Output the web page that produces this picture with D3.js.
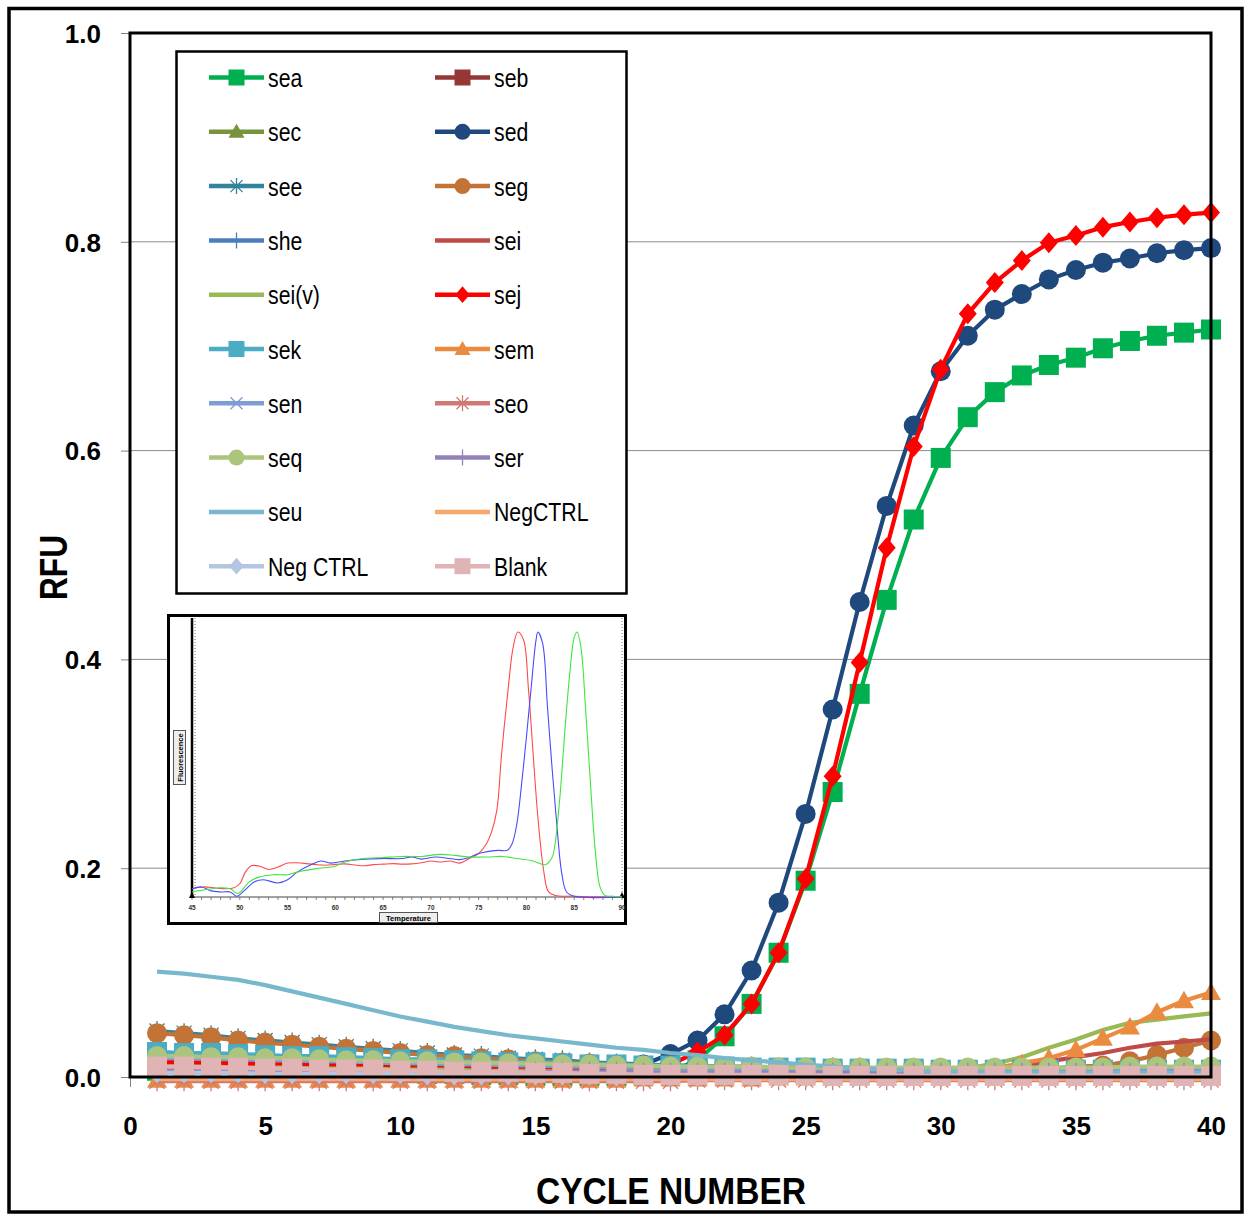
<!DOCTYPE html>
<html><head><meta charset="utf-8">
<title>RFU vs cycle number</title>
<script src="https://cdn.jsdelivr.net/npm/d3@7"></script>
<style>
body { margin: 0; background: #fff; }
svg { display: block; }
text { font-family: "Liberation Sans", Arial, sans-serif; }
</style>
</head>
<body>
<svg id="chart" width="1249" height="1215"></svg>
<script>
// ---- data ----
const cycles = [1,2,3,4,5,6,7,8,9,10,11,12,13,14,15,16,17,18,19,20,21,22,23,24,25,26,27,28,29,30,31,32,33,34,35,36,37,38,39,40];

const seaValues = [0.006,0.006,0.006,0.006,0.006,0.006,0.005,0.005,0.005,0.004,0.003,0.003,0.002,0.002,0.001,0.001,0.001,0.001,0.002,0.005,0.016,0.039,0.070,0.119,0.188,0.273,0.367,0.457,0.534,0.593,0.632,0.656,0.672,0.682,0.689,0.698,0.705,0.710,0.713,0.716];
const sebValues = [0.012,0.012,0.011,0.011,0.010,0.010,0.010,0.009,0.009,0.009,0.008,0.008,0.008,0.007,0.007,0.007,0.006,0.006,0.006,0.005,0.005,0.005,0.005,0.004,0.004,0.004,0.004,0.004,0.004,0.004,0.004,0.004,0.004,0.004,0.005,0.005,0.005,0.006,0.006,0.006];
const secValues = [0.020,0.020,0.019,0.019,0.018,0.018,0.017,0.017,0.016,0.016,0.015,0.014,0.014,0.013,0.012,0.012,0.011,0.011,0.010,0.010,0.009,0.009,0.008,0.008,0.008,0.007,0.007,0.007,0.007,0.007,0.007,0.007,0.007,0.007,0.007,0.008,0.008,0.008,0.008,0.009];
const sedValues = [0.014,0.014,0.013,0.013,0.013,0.012,0.012,0.012,0.011,0.011,0.011,0.010,0.010,0.010,0.009,0.009,0.009,0.009,0.012,0.022,0.035,0.060,0.102,0.167,0.252,0.352,0.455,0.547,0.624,0.676,0.710,0.735,0.750,0.764,0.773,0.780,0.784,0.789,0.792,0.794];
const seeValues = [0.044,0.042,0.040,0.037,0.035,0.033,0.031,0.029,0.027,0.025,0.023,0.021,0.020,0.018,0.017,0.016,0.014,0.013,0.012,0.011,0.011,0.010,0.010,0.009,0.009,0.009,0.009,0.008,0.008,0.008,0.008,0.008,0.008,0.008,0.008,0.008,0.008,0.008,0.008,0.008];
const segValues = [0.042,0.040,0.038,0.035,0.033,0.031,0.029,0.027,0.025,0.023,0.021,0.020,0.018,0.017,0.015,0.014,0.013,0.012,0.011,0.010,0.010,0.009,0.009,0.008,0.008,0.008,0.008,0.007,0.007,0.007,0.007,0.007,0.007,0.008,0.010,0.011,0.015,0.021,0.028,0.035];
const sheValues = [0.011,0.011,0.010,0.010,0.010,0.010,0.009,0.009,0.009,0.009,0.008,0.008,0.008,0.008,0.007,0.007,0.007,0.007,0.006,0.006,0.006,0.006,0.006,0.005,0.005,0.005,0.005,0.005,0.005,0.005,0.005,0.005,0.005,0.005,0.005,0.005,0.005,0.005,0.005,0.005];
const seiValues = [0.008,0.008,0.008,0.007,0.007,0.007,0.007,0.006,0.006,0.006,0.006,0.006,0.005,0.005,0.005,0.005,0.005,0.004,0.004,0.004,0.004,0.004,0.004,0.004,0.004,0.004,0.004,0.004,0.004,0.004,0.005,0.007,0.010,0.015,0.019,0.023,0.028,0.032,0.034,0.036];
const seivValues = [0.012,0.012,0.011,0.011,0.010,0.010,0.010,0.009,0.009,0.009,0.008,0.008,0.008,0.007,0.007,0.007,0.006,0.006,0.006,0.006,0.005,0.005,0.005,0.005,0.005,0.005,0.005,0.005,0.005,0.006,0.008,0.013,0.019,0.028,0.036,0.045,0.052,0.055,0.058,0.061];
const sejValues = [0.014,0.014,0.014,0.013,0.013,0.013,0.012,0.012,0.012,0.011,0.011,0.011,0.010,0.010,0.010,0.009,0.009,0.009,0.009,0.012,0.024,0.040,0.070,0.119,0.190,0.288,0.397,0.507,0.604,0.678,0.731,0.761,0.782,0.799,0.806,0.814,0.819,0.823,0.826,0.828];
const sekValues = [0.024,0.023,0.023,0.022,0.021,0.020,0.020,0.019,0.018,0.017,0.017,0.016,0.015,0.014,0.014,0.013,0.012,0.012,0.011,0.011,0.010,0.010,0.009,0.009,0.009,0.008,0.008,0.008,0.008,0.007,0.007,0.007,0.007,0.007,0.007,0.007,0.007,0.007,0.007,0.007];
const semValues = [-0.003,-0.003,-0.003,-0.003,-0.003,-0.003,-0.003,-0.003,-0.003,-0.003,-0.003,-0.003,-0.003,-0.003,-0.003,-0.003,-0.003,-0.003,-0.002,-0.002,-0.002,-0.002,-0.002,-0.001,-0.001,-0.001,0.000,0.002,0.003,0.004,0.006,0.009,0.013,0.018,0.026,0.037,0.048,0.062,0.073,0.081];
const senValues = [0.018,0.018,0.017,0.017,0.016,0.016,0.015,0.015,0.014,0.013,0.013,0.012,0.012,0.011,0.011,0.010,0.010,0.009,0.009,0.008,0.008,0.008,0.007,0.007,0.007,0.006,0.006,0.006,0.006,0.006,0.006,0.006,0.006,0.006,0.006,0.006,0.006,0.006,0.006,0.006];
const seoValues = [-0.004,-0.004,-0.004,-0.004,-0.004,-0.004,-0.004,-0.004,-0.004,-0.004,-0.004,-0.004,-0.004,-0.004,-0.004,-0.004,-0.004,-0.004,-0.004,-0.004,-0.003,-0.003,-0.003,-0.003,-0.003,-0.003,-0.003,-0.003,-0.003,-0.003,-0.003,-0.003,-0.003,-0.003,-0.003,-0.003,-0.003,-0.003,-0.003,-0.003];
const seqValues = [0.020,0.020,0.019,0.019,0.018,0.018,0.017,0.016,0.016,0.015,0.015,0.014,0.014,0.013,0.013,0.012,0.012,0.011,0.011,0.010,0.010,0.010,0.010,0.009,0.009,0.009,0.009,0.009,0.009,0.009,0.009,0.009,0.009,0.009,0.009,0.009,0.010,0.010,0.010,0.010];
const serValues = [0.006,0.006,0.006,0.006,0.006,0.006,0.006,0.006,0.005,0.005,0.005,0.005,0.005,0.005,0.005,0.005,0.005,0.005,0.004,0.004,0.004,0.004,0.004,0.004,0.004,0.004,0.004,0.004,0.004,0.004,0.004,0.004,0.004,0.004,0.004,0.004,0.004,0.004,0.004,0.004];
const seuValues = [0.101,0.099,0.096,0.093,0.088,0.082,0.076,0.070,0.064,0.058,0.053,0.048,0.044,0.040,0.037,0.034,0.031,0.028,0.026,0.023,0.021,0.018,0.016,0.014,0.012,0.010,0.008,0.007,0.006,0.005,0.005,0.004,0.004,0.004,0.004,0.004,0.004,0.004,0.004,0.004];
const negCtrlValues = [-0.002,-0.002,-0.002,-0.002,-0.002,-0.002,-0.002,-0.002,-0.002,-0.002,-0.002,-0.002,-0.002,-0.002,-0.002,-0.002,-0.002,-0.002,-0.002,-0.002,-0.002,-0.002,-0.002,-0.002,-0.002,-0.002,-0.002,-0.002,-0.002,-0.002,-0.002,-0.002,-0.002,-0.002,-0.002,-0.002,-0.002,-0.002,-0.002,-0.002];
const negCtrl2Values = [0.004,0.004,0.004,0.004,0.003,0.003,0.003,0.003,0.003,0.003,0.002,0.002,0.002,0.002,0.002,0.002,0.002,0.001,0.001,0.001,0.001,0.001,0.001,0.001,0.001,0.001,0.001,0.001,0.001,0.001,0.001,0.001,0.001,0.001,0.001,0.001,0.001,0.001,0.001,0.001];
const blankValues = [0.010,0.010,0.009,0.009,0.008,0.008,0.007,0.007,0.007,0.006,0.006,0.005,0.005,0.005,0.004,0.004,0.003,0.003,0.002,0.002,0.002,0.002,0.002,0.002,0.002,0.001,0.001,0.001,0.001,0.001,0.001,0.001,0.001,0.001,0.001,0.001,0.001,0.001,0.001,0.001];

const seriesNames  = ["sea","seb","sec","sed","see","seg","she","sei","sei(v)","sej","sek","sem","sen","seo","seq","ser","seu","NegCTRL","Neg CTRL","Blank"];
const seriesColors = ["#00B050","#953735","#77933C","#1F497D","#31849B","#C27335","#4A7EBB","#BE4B48","#98B954","#FF0000","#4BACC6","#EB8B40","#7F9DD2","#D07875","#ABC57F","#9382B8","#78B8CD","#F9A66B","#B4C5E2","#E0B4B4"];
const seriesMarkers = ["square","square","triangle","circle","star","circle","plus","none","none","diamond","square","triangle","x","star","circle","plus","none","none","diamond","square"];
const seriesValues = [seaValues,sebValues,secValues,sedValues,seeValues,segValues,sheValues,seiValues,seivValues,sejValues,sekValues,semValues,senValues,seoValues,seqValues,serValues,seuValues,negCtrlValues,negCtrl2Values,blankValues];

const yTicks = [0, 0.2, 0.4, 0.6, 0.8, 1.0];
const xTicks = [0, 5, 10, 15, 20, 25, 30, 35, 40];

// melt curve inset (temperature, relative fluorescence)
const meltRedT = [45,46.2,47.5,48.6,49.4,50.0,50.6,51.2,52,53,54,55,56,57,58,59,60,61,62,63,64,65,66,67,68,69,70,71,72,73,74,75,75.8,76.3,76.9,77.4,78.1,78.6,79.1,79.7,80.2,80.7,81.2,81.8,82.3,83,85,90];
const meltRedF = [0.031,0.038,0.034,0.031,0.035,0.050,0.095,0.118,0.117,0.104,0.113,0.128,0.129,0.126,0.122,0.120,0.123,0.125,0.121,0.118,0.122,0.124,0.126,0.124,0.125,0.129,0.136,0.132,0.136,0.128,0.145,0.164,0.200,0.240,0.327,0.540,0.790,0.940,1.000,0.970,0.790,0.540,0.300,0.100,0.020,0.006,0.003,0.000];
const meltBlueT = [45,46,47,48,49,49.7,50.5,51.5,52.5,54,55,56,57.5,58.5,59.5,61,63,65,67,68,69,70.5,72,73,74,75,77,78,78.5,79,79.5,80,80.5,81,81.2,81.7,82.2,82.7,83.2,83.7,84.2,85,90];
const meltBlueF = [0.031,0.038,0.023,0.019,0.019,0.003,0.025,0.057,0.065,0.053,0.065,0.094,0.123,0.136,0.128,0.136,0.143,0.145,0.145,0.151,0.143,0.151,0.145,0.141,0.149,0.164,0.176,0.176,0.201,0.277,0.428,0.604,0.792,0.969,1.000,0.956,0.717,0.478,0.264,0.088,0.019,0.003,0.000];
const meltGreenT = [45,46.5,48,49,49.8,51,52,53.5,55,56,58,60,61,63,65,67,69,71,72.5,74,76,77.5,79,80.5,82,82.7,83,83.5,84,84.5,85,85.3,85.7,86.2,86.7,87.2,87.7,88.2,89,90];
const meltGreenF = [0.019,0.028,0.035,0.031,0.013,0.057,0.075,0.084,0.084,0.094,0.107,0.116,0.132,0.145,0.149,0.153,0.153,0.161,0.157,0.151,0.151,0.153,0.145,0.138,0.122,0.151,0.201,0.377,0.616,0.830,0.980,1.000,0.943,0.704,0.428,0.176,0.038,0.006,0.003,0.000];
const meltTicks = [45,50,55,60,65,70,75,80,85,90];

// ---- drawing ----
const svg = d3.select("#chart");
const x = d3.scaleLinear().domain([0, 40]).range([130, 1211]);
const y = d3.scaleLinear().domain([0, 1]).range([1077, 33]);

svg.append("rect").attr("width", 1249).attr("height", 1215).attr("fill", "#fff");
svg.append("rect").attr("x", 9).attr("y", 8.5).attr("width", 1233).attr("height", 1203.5)
  .attr("fill", "none").attr("stroke", "#000").attr("stroke-width", 3.5);

// gridlines
svg.append("g").selectAll("line").data(yTicks.filter(d => d > 0 && d < 1)).join("line")
  .attr("x1", x(0)).attr("x2", x(40)).attr("y1", d => y(d)).attr("y2", d => y(d))
  .attr("stroke", "#8c8c8c").attr("stroke-width", 1);

// axes
const yAxis = svg.append("g").attr("transform", `translate(${x(0)},0)`)
  .call(d3.axisLeft(y).tickValues(yTicks).tickFormat(d3.format(".1f")).tickSize(9).tickPadding(20));
const xAxis = svg.append("g").attr("transform", `translate(0,${y(0)})`)
  .call(d3.axisBottom(x).tickValues(xTicks).tickSize(10).tickPadding(30));
[yAxis, xAxis].forEach(a => {
  a.select(".domain").remove();
  a.selectAll(".tick line").attr("stroke", "#808080");
  a.selectAll(".tick text").attr("font-family", "Liberation Sans, Arial, sans-serif")
    .attr("font-weight", "bold").attr("font-size", 26).attr("fill", "#000");
});
yAxis.selectAll(".tick text").attr("dy", "0.36em");

function drawMarker(g, type, cx, cy, color, s) {
  const h = s / 2;
  if (type === "square") {
    g.append("rect").attr("x", cx - h).attr("y", cy - h).attr("width", s).attr("height", s).attr("fill", color);
  } else if (type === "circle") {
    g.append("circle").attr("cx", cx).attr("cy", cy).attr("r", h).attr("fill", color);
  } else if (type === "triangle") {
    g.append("path").attr("d", `M${cx},${cy - h}L${cx + h},${cy + h * 0.75}L${cx - h},${cy + h * 0.75}Z`).attr("fill", color);
  } else if (type === "diamond") {
    g.append("path").attr("d", `M${cx},${cy - h * 1.05}L${cx + h * 0.9},${cy}L${cx},${cy + h * 1.05}L${cx - h * 0.9},${cy}Z`).attr("fill", color);
  } else if (type === "star" || type === "x" || type === "plus") {
    const k = h * 0.75;
    let d = "";
    if (type !== "plus") d += `M${cx - k},${cy - k}L${cx + k},${cy + k}M${cx - k},${cy + k}L${cx + k},${cy - k}`;
    if (type !== "x") d += `M${cx},${cy - h}L${cx},${cy + h}`;
    if (type === "plus") d += `M${cx - h},${cy}L${cx + h},${cy}`;
    g.append("path").attr("d", d).attr("fill", "none").attr("stroke", color).attr("stroke-width", 1.3);
  }
}

const line = d3.line().x(d => x(d[0])).y(d => y(d[1]));
const plot = svg.append("g");
seriesNames.forEach((name, i) => {
  const pts = cycles.map((c, j) => [c, seriesValues[i][j]]);
  const g = plot.append("g").attr("class", "series");
  g.append("path").datum(pts).attr("d", line).attr("fill", "none")
    .attr("stroke", seriesColors[i]).attr("stroke-width", 4.2).attr("stroke-linejoin", "round");
  if (seriesMarkers[i] !== "none") {
    pts.forEach(p => drawMarker(g, seriesMarkers[i], x(p[0]), y(p[1]), seriesColors[i], 20));
  }
});

// plot border
svg.append("rect").attr("x", x(0)).attr("y", y(1)).attr("width", x(40) - x(0)).attr("height", y(0) - y(1))
  .attr("fill", "none").attr("stroke", "#000").attr("stroke-width", 3);

// legend
const legend = svg.append("g");
legend.append("rect").attr("x", 176.5).attr("y", 51.5).attr("width", 450).attr("height", 542)
  .attr("fill", "#fff").attr("stroke", "#000").attr("stroke-width", 2.5);
seriesNames.forEach((name, i) => {
  const col = i % 2, row = Math.floor(i / 2);
  const lx = col === 0 ? 209 : 435;
  const ly = 77.5 + row * 54.3;
  legend.append("line").attr("x1", lx).attr("x2", lx + 55).attr("y1", ly).attr("y2", ly)
    .attr("stroke", seriesColors[i]).attr("stroke-width", 4.5);
  drawMarker(legend, seriesMarkers[i], lx + 27.5, ly, seriesColors[i], 16);
  const t = legend.append("text").attr("x", lx + 59).attr("y", ly + 9.5)
    .attr("font-size", 25).attr("fill", "#000").text(name);
  const w = t.node().getComputedTextLength();
  t.attr("textLength", w * 0.85).attr("lengthAdjust", "spacingAndGlyphs");
});

// inset melt curve
const inset = svg.append("g");
inset.append("rect").attr("x", 168.5).attr("y", 615.5).attr("width", 457).attr("height", 308)
  .attr("fill", "#fff").attr("stroke", "#000").attr("stroke-width", 3);
const tx = d3.scaleLinear().domain([45, 90]).range([192, 622]);
const ty = d3.scaleLinear().domain([0, 1]).range([897, 632]);
inset.append("line").attr("x1", 195).attr("x2", 195).attr("y1", 618).attr("y2", 897)
  .attr("stroke", "#777").attr("stroke-dasharray", "1,2");
inset.append("line").attr("x1", 622).attr("x2", 622).attr("y1", 618).attr("y2", 897)
  .attr("stroke", "#777").attr("stroke-dasharray", "1,2");
inset.append("line").attr("x1", 192).attr("x2", 192).attr("y1", 618).attr("y2", 898)
  .attr("stroke", "#000").attr("stroke-width", 2.5);
inset.append("line").attr("x1", 192).attr("x2", 622).attr("y1", 897).attr("y2", 897)
  .attr("stroke", "#444").attr("stroke-width", 1);
inset.append("g").selectAll("line").data(d3.range(45, 91)).join("line")
  .attr("x1", d => tx(d)).attr("x2", d => tx(d)).attr("y1", 897).attr("y2", 900)
  .attr("stroke", "#666").attr("stroke-width", 0.8);
inset.append("g").selectAll("text").data(meltTicks).join("text")
  .attr("x", d => tx(d)).attr("y", 910).attr("text-anchor", "middle")
  .attr("font-size", 6.5).attr("font-weight", "bold").attr("fill", "#333").text(d => d);
[192, 622].forEach(px => inset.append("path")
  .attr("d", `M${px - 3},${898}L${px},${892}L${px + 3},${898}Z`).attr("fill", "#000"));
const meltLine = d3.line().x(d => tx(d[0])).y(d => ty(d[1])).curve(d3.curveCatmullRom.alpha(0.5));
[[meltRedT, meltRedF, "#ff4a4a"], [meltBlueT, meltBlueF, "#4a4aff"], [meltGreenT, meltGreenF, "#3ee63e"]]
  .forEach(([T, F, c]) => {
    inset.append("path").datum(T.map((t, j) => [t, F[j]])).attr("d", meltLine)
      .attr("fill", "none").attr("stroke", c).attr("stroke-width", 1.1);
  });
inset.append("rect").attr("x", 379.5).attr("y", 912.5).attr("width", 58).attr("height", 10)
  .attr("fill", "#eee").attr("stroke", "#555").attr("stroke-width", 1);
inset.append("text").attr("x", 408.5).attr("y", 920.5).attr("text-anchor", "middle")
  .attr("font-size", 7.5).attr("font-weight", "bold").attr("fill", "#000").text("Temperature");
inset.append("rect").attr("x", 173.5).attr("y", 730.5).attr("width", 12).attr("height", 54)
  .attr("fill", "#eee").attr("stroke", "#555").attr("stroke-width", 1);
inset.append("text").attr("transform", "translate(182.5,757.5) rotate(-90)").attr("text-anchor", "middle")
  .attr("font-size", 7.5).attr("font-weight", "bold").attr("fill", "#000").text("Fluorescence");

// axis titles
svg.append("text").attr("x", 671).attr("y", 1204).attr("text-anchor", "middle")
  .attr("font-size", 37).attr("font-weight", "bold").attr("textLength", 270).attr("lengthAdjust", "spacingAndGlyphs")
  .text("CYCLE NUMBER");
svg.append("text").attr("transform", "translate(66.5,567.5) rotate(-90)").attr("text-anchor", "middle")
  .attr("font-size", 38).attr("font-weight", "bold").attr("textLength", 65).attr("lengthAdjust", "spacingAndGlyphs")
  .text("RFU");
</script>
</body></html>
